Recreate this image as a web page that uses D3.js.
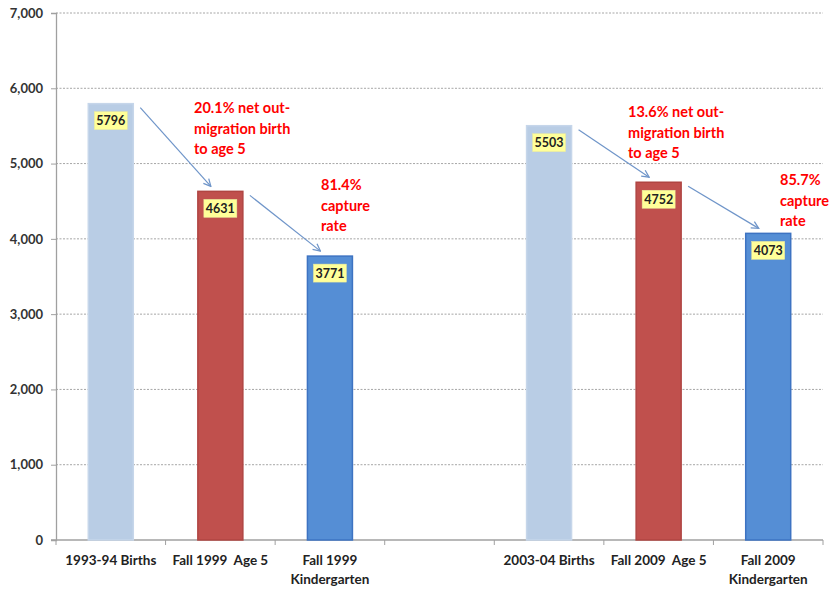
<!DOCTYPE html>
<html>
<head>
<meta charset="utf-8">
<script src="https://cdn.jsdelivr.net/npm/d3@7"></script>
<style>
  html, body { margin: 0; padding: 0; background: #fff; }
  svg { display: block; }
  text { font-family: Lato, "Open Sans", sans-serif; }
</style>
</head>
<body>
<svg id="chart" width="839" height="593"></svg>
<script>
// ---- data ----
const categories = ["1993-94 Births", "Fall 1999  Age 5", "Fall 1999|Kindergarten", "", "2003-04 Births", "Fall 2009  Age 5", "Fall 2009|Kindergarten"];
const values = [5796, 4631, 3771, null, 5503, 4752, 4073];
const barKinds = ["births", "age5", "kinder", null, "births", "age5", "kinder"];
const yTicks = [0, 1000, 2000, 3000, 4000, 5000, 6000, 7000];
const annotations = [
  { lines: ["20.1% net out-", "migration birth", "to age 5"], from: 0, to: 1 },
  { lines: ["81.4%", "capture", "rate"], from: 1, to: 2 },
  { lines: ["13.6% net out-", "migration birth", "to age 5"], from: 4, to: 5 },
  { lines: ["85.7%", "capture", "rate"], from: 5, to: 6 }
];

const fills = { births: "#b9cde5", age5: "#c0504d", kinder: "#558ed5" };
const strokes = { births: "#c6d6ea", age5: "#b04542", kinder: "#3d73c2" };

const svg = d3.select("#chart");
const margin = { left: 56, right: 16, top: 13, bottom: 53 };

const x = d3.scaleBand().domain(d3.range(categories.length)).range([margin.left, 823]).paddingInner(0).paddingOuter(0);
const y = d3.scaleLinear().domain([0, 7000]).range([540, margin.top]);

const barW = 45;

// gridlines
svg.append("g").selectAll("line").data(yTicks.filter(d => d > 0)).join("line")
  .attr("x1", margin.left).attr("x2", 823)
  .attr("y1", d => y(d)).attr("y2", d => y(d))
  .attr("stroke", "#a6a6a6").attr("stroke-width", 1).attr("stroke-dasharray", "2,1.5");

// y axis
const yAxis = d3.axisLeft(y).tickValues(yTicks).tickSize(5).tickPadding(8).tickFormat(d3.format(","));
const gy = svg.append("g").attr("transform", `translate(${margin.left},0)`).call(yAxis);
gy.select(".domain").attr("stroke", "#a0a0a0").attr("stroke-width", 1.3);
gy.selectAll(".tick line").attr("stroke", "#a0a0a0");
gy.selectAll(".tick text").attr("font-size", 13).attr("font-weight", "bold").attr("fill", "#333")
  .style("font-family", "Lato, sans-serif");

// x axis baseline + ticks at category boundaries
const gx = svg.append("g");
gx.append("line").attr("x1", margin.left - 5).attr("x2", 823).attr("y1", y(0)).attr("y2", y(0))
  .attr("stroke", "#a0a0a0").attr("stroke-width", 1.3);
const bounds = d3.range(categories.length + 1).map(i => i < categories.length ? x(i) : x(categories.length - 1) + x.bandwidth());
gx.selectAll("line.t").data(bounds).join("line").attr("class", "t")
  .attr("x1", d => d).attr("x2", d => d).attr("y1", y(0)).attr("y2", y(0) + 5)
  .attr("stroke", "#a0a0a0").attr("stroke-width", 1);

// bars
const idx = d3.range(categories.length).filter(i => values[i] != null);
svg.append("g").selectAll("rect").data(idx).join("rect")
  .attr("x", i => x(i) + (x.bandwidth() - barW) / 2)
  .attr("y", i => y(values[i]))
  .attr("width", barW)
  .attr("height", i => y(0) - y(values[i]))
  .attr("fill", i => fills[barKinds[i]])
  .attr("stroke", i => strokes[barKinds[i]])
  .attr("stroke-width", 1.5);

// value label boxes
const lab = svg.append("g").selectAll("g").data(idx).join("g")
  .attr("transform", i => `translate(${x(i) + x.bandwidth() / 2},${y(values[i]) + 8})`);
lab.append("rect").attr("x", -16.5).attr("y", 0).attr("width", 33).attr("height", 18)
  .attr("fill", "#ffff99").attr("stroke", "#e8e8a0").attr("stroke-width", 0.5);
lab.append("text").attr("x", 0).attr("y", 13.5).attr("text-anchor", "middle")
  .attr("font-size", 12.5).attr("font-weight", "bold").attr("fill", "#222")
  .text(i => values[i]);

// x labels
const xl = svg.append("g").selectAll("text").data(d3.range(categories.length)).join("text")
  .attr("x", i => x(i) + x.bandwidth() / 2).attr("y", 565)
  .attr("text-anchor", "middle").attr("font-size", 13.5).attr("font-weight", "bold").attr("fill", "#222")
  .style("white-space", "pre");
xl.each(function (i) {
  const parts = categories[i].split("|");
  d3.select(this).selectAll("tspan").data(parts).join("tspan")
    .attr("x", x(i) + x.bandwidth() / 2)
    .attr("dy", (d, k) => k === 0 ? 0 : 18.5)
    .text(d => d);
});

// arrows
const defs = svg.append("defs");
defs.append("marker").attr("id", "arr").attr("viewBox", "0 0 10 10").attr("refX", 9).attr("refY", 5)
  .attr("markerWidth", 9).attr("markerHeight", 9).attr("orient", "auto").attr("markerUnits", "userSpaceOnUse")
  .append("path").attr("d", "M1,1 L9,5 L1,9").attr("fill", "none").attr("stroke", "#6f95c9").attr("stroke-width", 1.4);

const ag = svg.append("g");
annotations.forEach(a => {
  const x1 = x(a.from) + x.bandwidth() / 2 + barW / 2 + 7;
  const y1 = y(values[a.from]) + 4;
  const x2 = x(a.to) + (x.bandwidth() - barW) / 2 + 13;
  const y2 = y(values[a.to]) - 5;
  ag.append("line").attr("x1", x1).attr("y1", y1).attr("x2", x2).attr("y2", y2)
    .attr("stroke", "#6f95c9").attr("stroke-width", 1.2).attr("marker-end", "url(#arr)");
});

// annotation text
const annPos = [
  { x: 194, y: 113 },
  { x: 321, y: 190 },
  { x: 628, y: 117 },
  { x: 780, y: 185 }
];
annotations.forEach((a, k) => {
  const t = svg.append("text").attr("x", annPos[k].x).attr("y", annPos[k].y)
    .attr("font-size", 14.5).attr("font-weight", "bold").attr("fill", "#ff0000");
  t.selectAll("tspan").data(a.lines).join("tspan")
    .attr("x", annPos[k].x).attr("dy", (d, j) => j === 0 ? 0 : 20.5).text(d => d);
});
</script>
</body>
</html>
